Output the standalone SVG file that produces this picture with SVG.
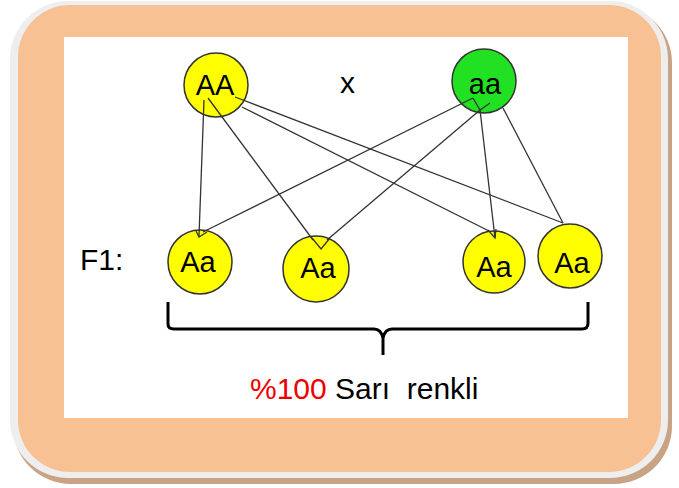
<svg xmlns="http://www.w3.org/2000/svg" width="679" height="488" viewBox="0 0 679 488">
<style>
.node circle{stroke:#333;stroke-width:1.5}
.yel{fill:#ffff00}
.grn{fill:#22e022}
.lbl{font-family:"Liberation Sans",Arial,sans-serif;font-size:29px;fill:#000;text-anchor:middle}
.txt{font-family:"Liberation Sans",Arial,sans-serif;font-size:30px;fill:#000;white-space:pre}
#connectors line,#connectors polyline{stroke:#333;stroke-width:1.3;fill:none}
</style>
<rect x="13" y="5" width="659" height="479" rx="58" fill="#c9a385"/>
<rect x="10" y="1" width="658" height="477" rx="58" fill="#eeeeee"/>
<rect x="18" y="5" width="643" height="467" rx="52" fill="#f8c193"/>
<rect x="64" y="37" width="564" height="381" fill="#ffffff"/>
<g id="AA" class="node"><circle class="yel" cx="216" cy="85" r="32"/><text class="lbl" x="215" y="95">AA</text></g>
<g id="aa" class="node"><circle class="grn" cx="484" cy="81" r="32"/><text class="lbl" x="485" y="94">aa</text></g>
<g id="Aa1" class="node"><circle class="yel" cx="200" cy="262" r="32"/><text class="lbl" x="198" y="272">Aa</text></g>
<g id="Aa2" class="node"><circle class="yel" cx="316" cy="269" r="33"/><text class="lbl" x="318" y="278">Aa</text></g>
<g id="Aa3" class="node"><circle class="yel" cx="494" cy="262" r="31"/><text class="lbl" x="494" y="277">Aa</text></g>
<g id="Aa4" class="node"><circle class="yel" cx="570" cy="256" r="32"/><text class="lbl" x="572" y="273">Aa</text></g>
<g id="connectors">
<line x1="204" y1="100" x2="199" y2="236"/>
<line x1="208" y1="98" x2="313" y2="240"/>
<line x1="242" y1="107" x2="489" y2="231"/>
<line x1="235" y1="97" x2="563" y2="223"/>
<line x1="473" y1="98" x2="203" y2="232"/>
<line x1="480" y1="110" x2="327" y2="240"/>
<line x1="480" y1="110" x2="495" y2="238"/>
<line x1="503" y1="108" x2="563" y2="223"/>
<polyline points="473,98 480,110 490,103"/>
<polyline points="196,231 199,237 207,232"/>
<polyline points="312,238 321,249 330,238"/>
<polyline points="488,230 495,238 496,229"/>
</g>
<text class="txt" x="340" y="93">x</text>
<text class="txt" x="80" y="270">F1:</text>
<path d="M168,302 L168,324 Q168,329 174,329 L374,329 Q381,329 383,338 Q385,329 392,329 L582,329 Q588,329 588,323 L588,302 M383,336 L383,355" fill="none" stroke="#000" stroke-width="3"/>
<text class="txt" x="250" y="399" xml:space="preserve"><tspan fill="#ee0000">%100</tspan> Sarı  renkli</text>
</svg>
